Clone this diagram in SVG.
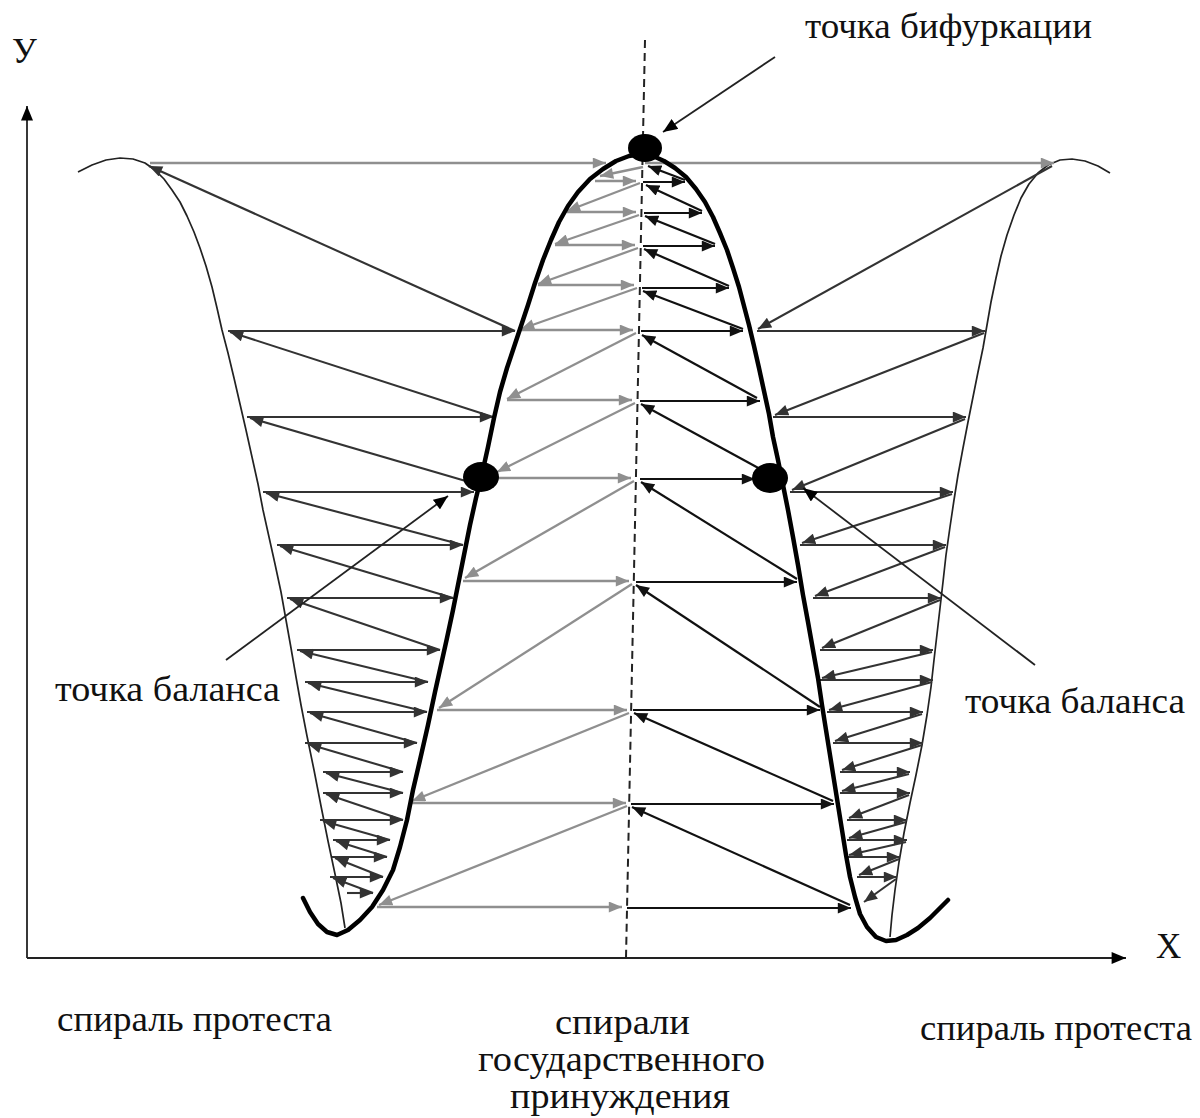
<svg xmlns="http://www.w3.org/2000/svg" width="1200" height="1118" viewBox="0 0 1200 1118">
<style>
.t{font-family:"Liberation Serif","Times New Roman",serif;font-size:35px;fill:#111}
.d{stroke:#333;stroke-width:2.1;fill:none;marker-end:url(#ad)}
.g{stroke:#8f8f8f;stroke-width:2.3;fill:none;marker-end:url(#ag)}
.b{stroke:#111;stroke-width:2.2;fill:none;marker-end:url(#ab)}
.p{stroke:#222;stroke-width:1.8;fill:none;marker-end:url(#ak)}
.thin{stroke:#222;stroke-width:1.7;fill:none;stroke-linejoin:round}
.thick{stroke:#000;stroke-width:4.5;fill:none;stroke-linejoin:round;stroke-linecap:round}
</style>
<defs>
<marker id="ad" viewBox="0 0 12 10" refX="12" refY="5" markerWidth="14" markerHeight="11" markerUnits="userSpaceOnUse" orient="auto"><path d="M0,0 L12,5 L0,10 z" fill="#333"/></marker>
<marker id="ag" viewBox="0 0 12 10" refX="12" refY="5" markerWidth="14" markerHeight="11" markerUnits="userSpaceOnUse" orient="auto"><path d="M0,0 L12,5 L0,10 z" fill="#8f8f8f"/></marker>
<marker id="ab" viewBox="0 0 12 10" refX="12" refY="5" markerWidth="14" markerHeight="11" markerUnits="userSpaceOnUse" orient="auto"><path d="M0,0 L12,5 L0,10 z" fill="#111"/></marker>
<marker id="ak" viewBox="0 0 12 10" refX="12" refY="5" markerWidth="15" markerHeight="12" markerUnits="userSpaceOnUse" orient="auto"><path d="M0,0 L12,5 L0,10 z" fill="#000"/></marker>
</defs>
<rect width="1200" height="1118" fill="#fff"/>

<g id="axes">
<line x1="27" y1="958" x2="27" y2="106" class="p" stroke-width="2"/>
<line x1="27" y1="958" x2="1126" y2="958" class="p" stroke-width="2"/>
<text class="t" x="12" y="63" font-size="34">У</text>
<text class="t" x="1156" y="958" font-size="34">Х</text>
</g>

<g id="center-axis">
<line x1="645" y1="40" x2="626" y2="958" stroke="#222" stroke-width="2" stroke-dasharray="8,5"/>
</g>

<g id="outer-left-curve">
<polyline class="thin" points="78,172 92,165 106,160 120,158 133,159 145,163 155,170 164,179 172,190 180,202 187,216 194,232 200,248 206,266 212,287 217,308 222,330 228,353 234,378 240,404 246,430 252,457 258,484 263,510 269,537 275,564 281,592 286,620 291,648 296,677 301,705 307,736 314,770 321,806 328,841 335,874 341,903 345,928"/>
</g>
<g id="outer-right-curve">
<polyline class="thin" points="1110,173 1098,166 1085,161 1072,159 1060,160 1048,165 1038,173 1029,184 1021,198 1014,215 1007,235 1001,256 996,278 991,302 987,325 983,348 978,372 973,397 968,422 963,448 958,475 954,500 950,527 946,555 943,582 940,608 937,634 934,660 931,687 927,715 922,745 916,775 910,803 904,833 899,862 895,890 892,915 890,937"/>
</g>

<g id="connectors">
<line x1="150" y1="163" x2="606" y2="163" class="g" stroke-width="3.6" stroke="#999"/>
<line x1="645" y1="163" x2="1054" y2="163" class="g" stroke-width="3.6" stroke="#999"/>

<line class="g" x1="643" y1="167" x2="600" y2="176"/>
<line class="g" x1="640" y1="183" x2="567" y2="211"/>
<line class="g" x1="639" y1="215" x2="555" y2="244"/>
<line class="g" x1="638" y1="248" x2="538" y2="284"/>
<line class="g" x1="637" y1="288" x2="521" y2="329"/>
<line class="g" x1="636" y1="333" x2="507" y2="399"/>
<line class="g" x1="635" y1="403" x2="497" y2="472"/>
<line class="g" x1="634" y1="481" x2="465" y2="578"/>
<line class="g" x1="632" y1="584" x2="439" y2="708"/>
<line class="g" x1="629" y1="713" x2="412" y2="801"/>
<line class="g" x1="627" y1="806" x2="379" y2="905"/>
<line class="g" x1="595" y1="181" x2="636" y2="181"/>
<line class="g" x1="567" y1="212" x2="636" y2="212"/>
<line class="g" x1="555" y1="245" x2="635" y2="245"/>
<line class="g" x1="538" y1="285" x2="634" y2="285"/>
<line class="g" x1="521" y1="330" x2="633" y2="330"/>
<line class="g" x1="507" y1="400" x2="632" y2="400"/>
<line class="g" x1="495" y1="478" x2="631" y2="478"/>
<line class="g" x1="463" y1="581" x2="629" y2="581"/>
<line class="g" x1="437" y1="710" x2="627" y2="710"/>
<line class="g" x1="410" y1="803" x2="626" y2="803"/>
<line class="g" x1="377" y1="907" x2="622" y2="907"/>

<line class="b" x1="643" y1="182" x2="685" y2="182"/>
<line class="b" x1="644" y1="213" x2="702" y2="213"/>
<line class="b" x1="643" y1="246" x2="715" y2="246"/>
<line class="b" x1="642" y1="288" x2="729" y2="288"/>
<line class="b" x1="641" y1="331" x2="743" y2="331"/>
<line class="b" x1="640" y1="401" x2="760" y2="401"/>
<line class="b" x1="640" y1="479" x2="755" y2="479"/>
<line class="b" x1="636" y1="582" x2="797" y2="582"/>
<line class="b" x1="633" y1="710" x2="820" y2="710"/>
<line class="b" x1="631" y1="804" x2="834" y2="804"/>
<line class="b" x1="627" y1="908" x2="851" y2="908"/>
<line class="b" x1="685" y1="180" x2="648" y2="166"/>
<line class="b" x1="702" y1="211" x2="646" y2="185"/>
<line class="b" x1="715" y1="244" x2="645" y2="216"/>
<line class="b" x1="729" y1="286" x2="644" y2="249"/>
<line class="b" x1="743" y1="329" x2="643" y2="291"/>
<line class="b" x1="757" y1="398" x2="642" y2="335"/>
<line class="b" x1="762" y1="470" x2="641" y2="404"/>
<line class="b" x1="797" y1="579" x2="641" y2="482"/>
<line class="b" x1="820" y1="707" x2="636" y2="585"/>
<line class="b" x1="833" y1="801" x2="634" y2="713"/>
<line class="b" x1="850" y1="905" x2="632" y2="807"/>

<line class="d" x1="228" y1="331" x2="515" y2="331"/>
<line class="d" x1="247" y1="417" x2="493" y2="417"/>
<line class="d" x1="263" y1="492" x2="474" y2="492"/>
<line class="d" x1="277" y1="545" x2="463" y2="545"/>
<line class="d" x1="287" y1="598" x2="453" y2="598"/>
<line class="d" x1="297" y1="650" x2="440" y2="650"/>
<line class="d" x1="305" y1="682" x2="428" y2="682"/>
<line class="d" x1="307" y1="712" x2="427" y2="712"/>
<line class="d" x1="305" y1="743" x2="417" y2="743"/>
<line class="d" x1="323" y1="772" x2="403" y2="772"/>
<line class="d" x1="323" y1="793" x2="403" y2="793"/>
<line class="d" x1="320" y1="820" x2="403" y2="820"/>
<line class="d" x1="333" y1="840" x2="390" y2="840"/>
<line class="d" x1="332" y1="857" x2="387" y2="857"/>
<line class="d" x1="330" y1="877" x2="383" y2="877"/>
<line class="d" x1="347" y1="893" x2="373" y2="893"/>
<line class="d" x1="515" y1="331" x2="149" y2="166"/>
<line class="d" x1="493" y1="417" x2="230" y2="332"/>
<line class="d" x1="476" y1="484" x2="250" y2="418"/>
<line class="d" x1="463" y1="545" x2="266" y2="493"/>
<line class="d" x1="453" y1="598" x2="280" y2="546"/>
<line class="d" x1="440" y1="650" x2="290" y2="599"/>
<line class="d" x1="428" y1="682" x2="300" y2="651"/>
<line class="d" x1="427" y1="712" x2="308" y2="683"/>
<line class="d" x1="417" y1="743" x2="310" y2="713"/>
<line class="d" x1="403" y1="772" x2="308" y2="744"/>
<line class="d" x1="403" y1="793" x2="326" y2="773"/>
<line class="d" x1="403" y1="820" x2="326" y2="794"/>
<line class="d" x1="390" y1="840" x2="323" y2="821"/>
<line class="d" x1="387" y1="857" x2="336" y2="841"/>
<line class="d" x1="383" y1="877" x2="335" y2="858"/>
<line class="d" x1="373" y1="893" x2="333" y2="878"/>

<line class="d" x1="757" y1="331" x2="985" y2="331"/>
<line class="d" x1="773" y1="417" x2="966" y2="417"/>
<line class="d" x1="790" y1="492" x2="953" y2="492"/>
<line class="d" x1="800" y1="545" x2="946" y2="545"/>
<line class="d" x1="813" y1="598" x2="941" y2="598"/>
<line class="d" x1="820" y1="650" x2="933" y2="650"/>
<line class="d" x1="820" y1="680" x2="933" y2="680"/>
<line class="d" x1="827" y1="712" x2="923" y2="712"/>
<line class="d" x1="833" y1="743" x2="923" y2="743"/>
<line class="d" x1="840" y1="772" x2="910" y2="772"/>
<line class="d" x1="840" y1="793" x2="910" y2="793"/>
<line class="d" x1="847" y1="820" x2="907" y2="820"/>
<line class="d" x1="847" y1="840" x2="907" y2="840"/>
<line class="d" x1="847" y1="857" x2="900" y2="857"/>
<line class="d" x1="857" y1="877" x2="897" y2="877"/>
<line class="d" x1="1052" y1="166" x2="758" y2="329"/>
<line class="d" x1="984" y1="333" x2="775" y2="415"/>
<line class="d" x1="965" y1="419" x2="792" y2="490"/>
<line class="d" x1="952" y1="494" x2="802" y2="543"/>
<line class="d" x1="945" y1="547" x2="815" y2="596"/>
<line class="d" x1="940" y1="600" x2="822" y2="648"/>
<line class="d" x1="932" y1="652" x2="822" y2="678"/>
<line class="d" x1="932" y1="682" x2="829" y2="710"/>
<line class="d" x1="922" y1="714" x2="835" y2="741"/>
<line class="d" x1="922" y1="745" x2="842" y2="770"/>
<line class="d" x1="909" y1="774" x2="842" y2="791"/>
<line class="d" x1="909" y1="795" x2="849" y2="818"/>
<line class="d" x1="906" y1="822" x2="849" y2="838"/>
<line class="d" x1="906" y1="842" x2="849" y2="855"/>
<line class="d" x1="899" y1="859" x2="859" y2="875"/>
<line class="d" x1="896" y1="879" x2="864" y2="902"/>

<line class="p" x1="775" y1="57" x2="663" y2="132"/>
<line class="p" x1="226" y1="660" x2="448" y2="496"/>
<line class="p" x1="1035" y1="665" x2="803" y2="488"/>
</g>

<g id="central-curve">
<polyline class="thick" points="303,898 310,912 318,924 327,932 337,935 348,930 360,920 372,907 383,890 393,870 400,847 407,820 413,790 420,760 428,725 435,692 441,665 447,638 453,610 458,585 464,555 470,525 476,498 482,474 488,447 494,418 500,392 507,368 514,347 521,326 528,305 535,283 543,260 551,240 559,222 568,206 578,192 590,179 603,169 616,161 629,156 641,154 653,156 664,161 675,168 686,177 696,189 705,202 713,217 720,233 727,250 733,268 739,287 744,306 749,325 754,346 759,368 764,391 769,414 773,437 778,460 783,485 788,510 793,537 798,565 803,595 808,622 813,650 818,678 822,705 826,730 830,755 834,780 838,805 842,830 846,855 850,877 855,897 860,914 867,927 876,937 886,941 896,940 907,935 918,928 930,918 940,908 948,900"/>
</g>

<g id="bifurcation-point">
<ellipse cx="645" cy="148" rx="17" ry="14" fill="#000"/>
<text class="t" x="805" y="38" textLength="287" lengthAdjust="spacingAndGlyphs">точка бифуркации</text>
</g>
<g id="balance-left">
<ellipse cx="481" cy="477" rx="18" ry="15" fill="#000"/>
<text class="t" x="55" y="701" textLength="225" lengthAdjust="spacingAndGlyphs">точка баланса</text>
</g>
<g id="balance-right">
<ellipse cx="770" cy="478" rx="18" ry="15" fill="#000"/>
<text class="t" x="965" y="713" textLength="220" lengthAdjust="spacingAndGlyphs">точка баланса</text>
</g>

<g id="labels">
<text class="t" x="57" y="1031" textLength="275" lengthAdjust="spacingAndGlyphs">спираль протеста</text>
<text class="t" x="555" y="1034" textLength="135" lengthAdjust="spacingAndGlyphs">спирали</text>
<text class="t" x="478" y="1071" textLength="287" lengthAdjust="spacingAndGlyphs">государственного</text>
<text class="t" x="510" y="1108" textLength="220" lengthAdjust="spacingAndGlyphs">принуждения</text>
<text class="t" x="920" y="1040" textLength="272" lengthAdjust="spacingAndGlyphs">спираль протеста</text>
</g>
</svg>
